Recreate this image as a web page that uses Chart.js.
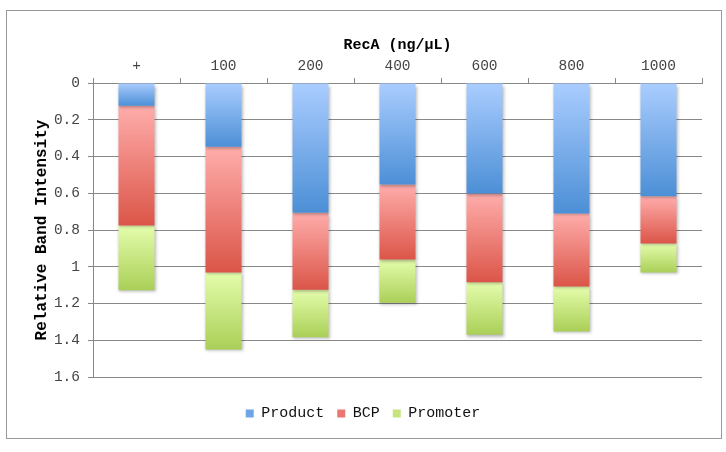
<!DOCTYPE html>
<html>
<head>
<meta charset="utf-8">
<script src="https://cdn.jsdelivr.net/npm/chart.js@4/dist/chart.umd.min.js"></script>
<style>
html,body{margin:0;padding:0;background:#fff;}
#wrap{position:absolute;left:0;top:0;width:726px;height:452px;}
</style>
</head>
<body>
<div id="wrap"><canvas id="c" width="726" height="452"></canvas></div>
<script>
// ---- data ----
const categories = ['+', '100', '200', '400', '600', '800', '1000'];
const productValues = [0.124, 0.347, 0.706, 0.553, 0.602, 0.710, 0.617];
const bcpValues = [0.651, 0.684, 0.419, 0.408, 0.483, 0.397, 0.256];
const promoterValues = [0.353, 0.419, 0.259, 0.235, 0.285, 0.245, 0.158];
const yTicks = [0, 0.2, 0.4, 0.6, 0.8, 1, 1.2, 1.4, 1.6];
const seriesNames = ['Product', 'BCP', 'Promoter'];

const seriesData = [productValues, bcpValues, promoterValues];
const gradStops = [
  ['#aacdff', '#4c8fd6'],
  ['#ffadab', '#db5548'],
  ['#e4fdac', '#aacf57']
];
const legendColors = ['#6ea5e6', '#ea7670', '#c5e47f'];

function barGradient(ctx, dsIndex) {
  const chart = ctx.chart;
  const y = chart.scales && chart.scales.y;
  if (!y || !chart.chartArea || ctx.type !== 'data') return legendColors[dsIndex];
  const i = ctx.dataIndex;
  let start = 0;
  for (let k = 0; k < dsIndex; k++) start += seriesData[k][i];
  const end = start + seriesData[dsIndex][i];
  const y0 = y.getPixelForValue(start);
  const y1 = y.getPixelForValue(end);
  if (!isFinite(y0) || !isFinite(y1) || y0 === y1) return legendColors[dsIndex];
  const g = chart.ctx.createLinearGradient(0, y0, 0, y1);
  g.addColorStop(0, gradStops[dsIndex][0]);
  g.addColorStop(1, gradStops[dsIndex][1]);
  return g;
}

const borderPlugin = {
  id: 'outerBorder',
  beforeDraw(chart) {
    const c = chart.ctx;
    c.save();
    c.fillStyle = '#ffffff';
    c.fillRect(0, 0, chart.width, chart.height);
    c.strokeStyle = '#999999';
    c.lineWidth = 1;
    c.strokeRect(6.5, 10.5, 715, 428);
    c.restore();
  }
};
const shadowPlugin = {
  id: 'barShadow',
  beforeDatasetDraw(chart) {
    const c = chart.ctx;
    c.save();
    c.shadowColor = 'rgba(0,0,0,0.28)';
    c.shadowBlur = 3;
    c.shadowOffsetX = 1;
    c.shadowOffsetY = 2;
  },
  afterDatasetDraw(chart) {
    chart.ctx.restore();
  }
};

const monoFont = "'Liberation Mono', 'Courier New', monospace";

new Chart(document.getElementById('c'), {
  type: 'bar',
  data: {
    labels: categories,
    datasets: seriesNames.map((name, k) => ({
      label: name,
      data: seriesData[k],
      backgroundColor: (ctx) => barGradient(ctx, k),
      borderWidth: 0,
      categoryPercentage: 0.414,
      barPercentage: 1
    }))
  },
  options: {
    responsive: false,
    animation: false,
    devicePixelRatio: 1,
    layout: { padding: { left: 24, right: 24, top: 20, bottom: 21 } },
    plugins: {
      tooltip: { enabled: false },
      legend: {
        position: 'bottom',
        title: {
          display: true,
          text: ' ',
          color: 'rgba(0,0,0,0)',
          font: { family: monoFont, size: 10 },
          padding: { top: 4, bottom: 0 }
        },
        labels: {
          font: { family: monoFont, size: 15 },
          color: '#111',
          boxWidth: 8,
          boxHeight: 8,
          padding: 13,
          generateLabels(chart) {
            return seriesNames.map((n, k) => ({
              text: n,
              fillStyle: legendColors[k],
              strokeStyle: legendColors[k],
              lineWidth: 0,
              hidden: false,
              datasetIndex: k,
              fontColor: '#111'
            }));
          }
        }
      }
    },
    scales: {
      x: {
        position: 'top',
        stacked: true,
        offset: true,
        afterFit(scale) { scale.height = 63; },
        grid: { drawOnChartArea: false, drawTicks: true, tickLength: 5, color: '#888888' },
        border: { color: '#888888' },
        ticks: { color: '#444444', font: { family: monoFont, size: 14.5 }, padding: 3, maxRotation: 0 },
        title: {
          display: true, text: 'RecA (ng/µL)', color: '#000',
          font: { family: monoFont, size: 15, weight: 'bold' },
          padding: { top: 16, bottom: 0 }
        }
      },
      y: {
        stacked: true,
        reverse: true,
        min: 0,
        max: 1.6,
        afterFit(scale) { scale.width = 69; },
        afterBuildTicks(scale) { scale.ticks = yTicks.map(v => ({ value: v })); },
        grid: { color: '#888888', tickLength: 5 },
        border: { color: '#888888' },
        ticks: {
          color: '#444444', font: { family: monoFont, size: 14.5 }, padding: 8,
          callback: (v) => String(Math.round(v * 10) / 10)
        },
        title: {
          display: true, text: 'Relative Band Intensity', color: '#000',
          font: { family: monoFont, size: 16, weight: 'bold' },
          padding: { top: 8, bottom: 0 }
        }
      }
    }
  },
  plugins: [borderPlugin, shadowPlugin]
});
</script>
</body>
</html>
